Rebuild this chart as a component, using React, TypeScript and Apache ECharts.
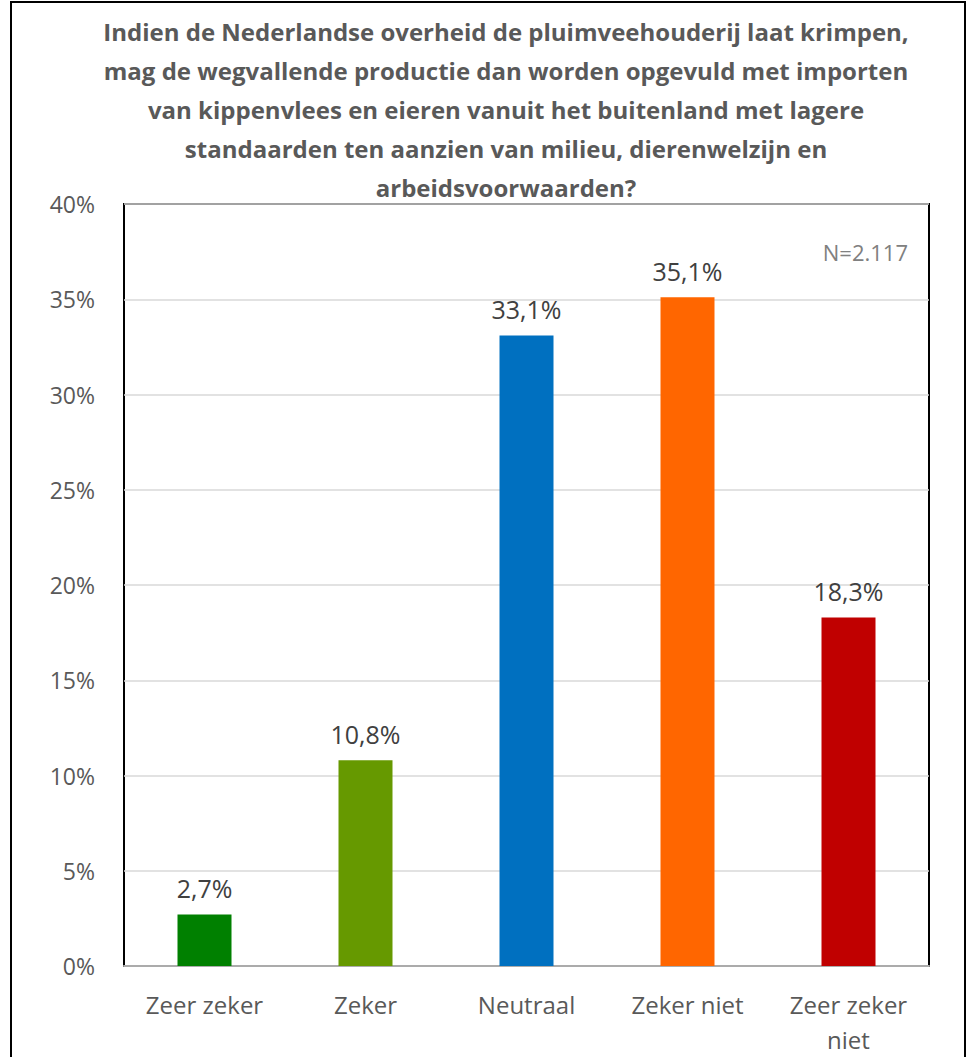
import React, { useEffect, useRef } from "react";
import * as echarts from "echarts";

const categories = ["Zeer zeker", "Zeker", "Neutraal", "Zeker niet", "Zeer zeker\nniet"];
const values = [2.7, 10.8, 33.1, 35.1, 18.3];
const barColors = ["#008000", "#669900", "#0070C0", "#FF6600", "#C00000"];
const titleLines = [
  "Indien de Nederlandse overheid de pluimveehouderij laat krimpen,",
  "mag de wegvallende productie dan worden opgevuld met importen",
  "van kippenvlees en eieren vanuit het buitenland met lagere",
  "standaarden ten aanzien van milieu, dierenwelzijn en",
  "arbeidsvoorwaarden?",
];
const noteText = "N=2.117";

export default function App() {
  const ref = useRef<HTMLDivElement>(null);
  useEffect(() => {
    if (!ref.current) return;
    const chart = echarts.init(ref.current, null, { renderer: "svg" });
    const font = "'Open Sans', sans-serif";
    chart.setOption({
      animation: false,
      backgroundColor: "#ffffff",
      grid: {
        left: 124,
        top: 204,
        right: 38,
        bottom: 91,
        outerBoundsMode: "none",
        containLabel: false,
        show: true,
        borderColor: "#000000",
        borderWidth: 2,
        backgroundColor: "transparent",
      },
      graphic: [
        {
          type: "rect",
          shape: { x: 11, y: 2, width: 954, height: 1100 },
          style: { fill: "none", stroke: "#000000", lineWidth: 2 },
          silent: true,
        },
        {
          type: "text",
          x: 506,
          y: 12,
          style: {
            text: titleLines.join("\n"),
            font: "bold 24px 'Open Sans', sans-serif",
            fill: "#595959",
            align: "center",
            verticalAlign: "top",
            lineHeight: 39,
          },
        },
        {
          type: "text",
          x: 908,
          y: 252,
          style: {
            text: noteText,
            font: "22px 'Open Sans', sans-serif",
            fill: "#808080",
            align: "right",
            verticalAlign: "middle",
          },
        },
      ],
      xAxis: {
        type: "category",
        data: categories,
        axisTick: { show: false },
        axisLine: { show: true, lineStyle: { color: "#ababab", width: 2 } },
        axisLabel: {
          color: "#595959",
          fontFamily: font,
          fontSize: 24,
          margin: 21,
          lineHeight: 35,
          interval: 0,
        },
      },
      yAxis: {
        type: "value",
        min: 0,
        max: 40,
        interval: 5,
        axisLine: { show: false },
        axisTick: { show: false },
        splitLine: { lineStyle: { color: "#d9d9d9", width: 1.5 } },
        axisLabel: {
          formatter: "{value}%",
          color: "#595959",
          fontFamily: font,
          fontSize: 23,
          margin: 29,
        },
      },
      series: [
        {
          type: "bar",
          barWidth: 54,
          data: values.map((v, i) => ({ value: v, itemStyle: { color: barColors[i] } })),
          label: {
            show: true,
            position: "top",
            distance: 14,
            color: "#404040",
            fontFamily: font,
            fontSize: 25,
            formatter: (p: any) => String(p.value).replace(".", ",") + "%",
          },
        },
      ],
    });
    return () => chart.dispose();
  }, []);
  return (
    <div
      ref={ref}
      style={{ position: "absolute", left: 0, top: 0, width: 967, height: 1057, background: "#fff" }}
    />
  );
}
